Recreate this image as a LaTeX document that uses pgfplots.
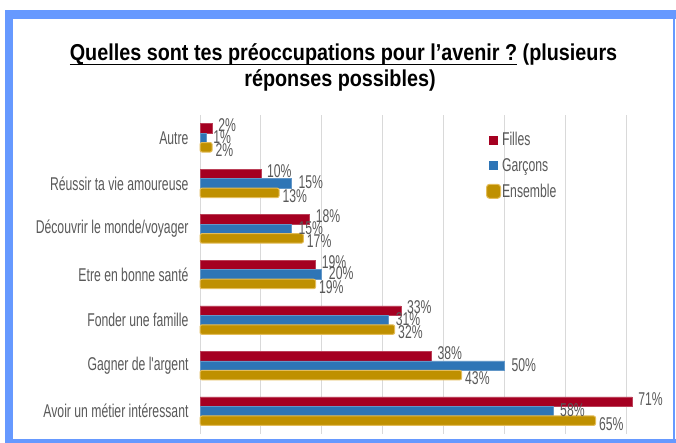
\documentclass[border=0pt]{standalone}
\usepackage{fontspec}
\setmainfont{Liberation Sans}
\newfontfamily\agency[FakeStretch=0.66]{Liberation Sans}
\newfontfamily\titlefont[FakeStretch=0.86]{Liberation Sans}
\usepackage{pgfplots}
\pgfplotsset{compat=1.18}

\definecolor{filles}{HTML}{A50021}
\definecolor{garcons}{HTML}{2E75B6}
\definecolor{ensemble}{HTML}{BF9000}
\definecolor{ensedge}{HTML}{E3BC5A}
\definecolor{frameblue}{HTML}{6699FF}
\definecolor{lbl}{HTML}{595959}
\definecolor{gridc}{HTML}{D9D9D9}

\newcommand\ul[1]{\setbox0\hbox{#1}\rlap{\rule[-4.5pt]{\wd0}{1.8pt}}\box0\relax}
\newcommand\lblfont{\agency\fontsize{18.5}{20}\selectfont}

\begin{document}
\begin{tikzpicture}[x=1pt,y=1pt]
\path (0,0) rectangle (676,443);
% cadre
\fill[frameblue] (5,424) rectangle (676,433);
\fill[frameblue] (5,0) rectangle (13,433);
\fill[frameblue] (5,0) rectangle (676,4);
\fill[frameblue] (673,0) rectangle (675,433);

% titre
\node[anchor=base, inner sep=0pt, font=\titlefont\bfseries\fontsize{23}{26}\selectfont]
  at (343.5,382) {\ul{Quelles sont tes préoccupations pour l’avenir ?} (plusieurs};
\node[anchor=base, inner sep=0pt, font=\titlefont\bfseries\fontsize{23}{26}\selectfont]
  at (340,356) {réponses possibles)};

\begin{axis}[
    at={(200pt,9pt)}, anchor=south west,
    scale only axis, width=426pt, height=319pt,
    xbar, bar width=9.5pt,
    xmin=0, xmax=70, ymin=-0.5, ymax=6.5,
    xtick={0,10,...,70}, xticklabels={},
    ytick={0,...,6},
    yticklabels={Avoir un métier intéressant, Gagner de l'argent, Fonder une famille,
        Etre en bonne santé, Découvrir le monde/voyager, Réussir ta vie amoureuse, Autre},
    xmajorgrids, grid style={gridc, line width=0.9pt},
    axis line style={draw=none}, major tick length=0pt,
    yticklabel style={font=\lblfont, text=lbl, xshift=-8pt},
    clip=false,
    /pgf/number format/assume math mode=true,
    point meta=x,
    nodes near coords={\pgfmathprintnumber{\pgfplotspointmeta}\%},
    every node near coord/.append style={font=\lblfont, text=lbl, anchor=west, inner sep=0pt},
    legend style={at={(0.664,0.955)}, anchor=north west, draw=none, fill=none,
        font=\lblfont, text=lbl, row sep=9pt, nodes={inner sep=1pt}},
    legend cell align=left,
]
\addplot[fill=filles, draw=filles!75!white, line width=0.5pt, bar shift=9.5pt,
    every node near coord/.append style={xshift=6pt, yshift=3pt},
    legend image code/.code={\fill[filles] (0pt,-4pt) rectangle (8pt,4pt);}]
    coordinates {(71,0) (38,1) (33,2) (19,3) (18,4) (10,5) (2,6)};
\addplot[fill=garcons, draw=garcons!75!white, line width=0.5pt, bar shift=0pt,
    every node near coord/.append style={xshift=7pt, yshift=1pt},
    legend image code/.code={\fill[garcons] (0pt,-4pt) rectangle (8pt,4pt);}]
    coordinates {(58,0) (50,1) (31,2) (20,3) (15,4) (15,5) (1,6)};
\addplot[fill=ensemble, draw=ensedge, line width=1pt, rounded corners=2pt, bar shift=-9.5pt,
    every node near coord/.append style={xshift=3pt, yshift=-3pt},
    legend image code/.code={\fill[ensemble, draw=ensedge, rounded corners=3pt] (-3pt,-7pt) rectangle (11pt,7pt);}]
    coordinates {(65,0) (43,1) (32,2) (19,3) (17,4) (13,5) (2,6)};
\legend{Filles, Garçons, Ensemble}
\end{axis}
\end{tikzpicture}
\end{document}
